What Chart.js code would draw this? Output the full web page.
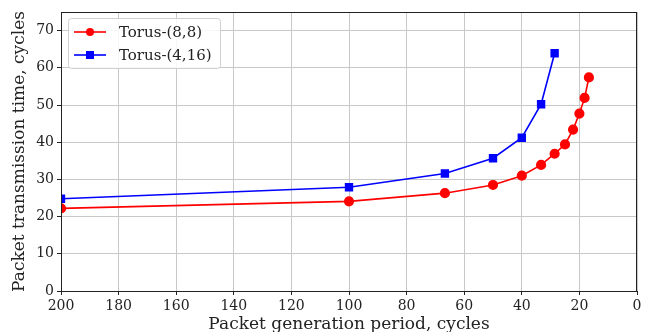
<!DOCTYPE html>
<html><head><meta charset="utf-8">
<script src="https://cdn.jsdelivr.net/npm/chart.js@4/dist/chart.umd.min.js"></script>
<style>html,body{margin:0;padding:0;background:#fff}#wrap{width:650px;height:332px}</style>
</head><body><div id="wrap"><canvas id="c" width="650" height="332"></canvas></div>
<script>
const periods8 = [200, 100, 66.7, 50, 40, 33.3, 28.6, 25, 22.2, 20, 18.2, 16.7];
const torus88 = [22.2, 24.1, 26.3, 28.5, 31.0, 33.9, 36.9, 39.4, 43.4, 47.7, 51.9, 57.4];
const periods416 = [200, 100, 66.7, 50, 40, 33.3, 28.6];
const torus416 = [24.8, 27.9, 31.6, 35.7, 41.2, 50.2, 63.9];
const xTicks = [0, 20, 40, 60, 80, 100, 120, 140, 160, 180, 200];
const yTicks = [0, 10, 20, 30, 40, 50, 60, 70];
const seriesNames = ['Torus-(8,8)', 'Torus-(4,16)'];

const FONT = "'DejaVu Serif', serif";
const pts = (xs, ys) => xs.map((x, i) => ({x, y: ys[i]}));

const frame = {
  id: 'frame',
  afterDatasetsDraw(chart) {
    const {ctx, chartArea: a} = chart;
    ctx.save();
    ctx.strokeStyle = '#222';
    ctx.lineWidth = 1;
    ctx.strokeRect(a.left + 0.5, a.top + 0.5, a.right - a.left - 1, a.bottom - a.top);
    const bx = a.left + 7, by = a.top + 6, bw = 152, bh = 50;
    ctx.fillStyle = 'rgba(255,255,255,0.85)';
    ctx.strokeStyle = '#d0d0d0';
    ctx.beginPath();
    ctx.roundRect(bx + 0.5, by + 0.5, bw, bh, 3);
    ctx.fill(); ctx.stroke();
    chart.data.datasets.forEach((ds, i) => {
      const y = by + 14 + i * 23;
      ctx.strokeStyle = ds.borderColor; ctx.lineWidth = 1.6;
      ctx.beginPath(); ctx.moveTo(bx + 6, y); ctx.lineTo(bx + 38, y); ctx.stroke();
      ctx.fillStyle = ds.borderColor;
      if (ds.pointStyle === 'rect') { ctx.fillRect(bx + 22 - 4, y - 4, 8, 8); }
      else { ctx.beginPath(); ctx.arc(bx + 22, y, 4, 0, Math.PI * 2); ctx.fill(); }
      ctx.fillStyle = '#222';
      ctx.font = "15px " + FONT;
      ctx.textBaseline = 'middle';
      ctx.fillText(ds.label, bx + 51, y + 1);
    });
    ctx.restore();
  }
};

new Chart(document.getElementById('c'), {
  type: 'line',
  data: {
    datasets: [
      {label: seriesNames[0], data: pts(periods8, torus88), borderColor: '#ff0000', backgroundColor: '#ff0000',
       pointStyle: 'circle', pointRadius: 4.3, pointHoverRadius: 4.3, borderWidth: 1.6, tension: 0},
      {label: seriesNames[1], data: pts(periods416, torus416), borderColor: '#0000ff', backgroundColor: '#0000ff',
       pointStyle: 'rect', pointRadius: 4.8, pointHoverRadius: 4.8, borderWidth: 1.6, tension: 0}
    ]
  },
  options: {
    responsive: false, animation: false, devicePixelRatio: 1,
    layout: {padding: {top: 12, right: 13, left: 0, bottom: 0}},
    plugins: {legend: {display: false}, tooltip: {enabled: false}},
    scales: {
      x: {
        type: 'linear', reverse: true, min: 0, max: 200,
        afterBuildTicks: s => { s.ticks = xTicks.map(v => ({value: v})); },
        afterFit: s => { s.height = 41; },
        ticks: {color: '#222', font: {family: FONT, size: 14}, padding: 3, maxRotation: 0, autoSkip: false},
        grid: {color: '#c8c8c8', tickColor: '#222', tickLength: 4, lineWidth: 1},
        border: {color: '#222', width: 1},
        title: {display: true, text: 'Packet generation period, cycles', color: '#222',
                font: {family: FONT, size: 17, lineHeight: 0.9}, padding: {top: 0, bottom: 0}}
      },
      y: {
        type: 'linear', min: 0, max: 75,
        afterBuildTicks: s => { s.ticks = yTicks.map(v => ({value: v})); },
        afterFit: s => { s.width = 61; },
        ticks: {color: '#222', font: {family: FONT, size: 14}, padding: 3},
        grid: {color: '#c8c8c8', tickColor: '#222', tickLength: 4, lineWidth: 1},
        border: {color: '#222', width: 1},
        title: {display: true, text: 'Packet transmission time, cycles', color: '#222',
                font: {family: FONT, size: 17}, padding: {top: 9, bottom: 0}}
      }
    }
  },
  plugins: [frame]
});
</script></body></html>
